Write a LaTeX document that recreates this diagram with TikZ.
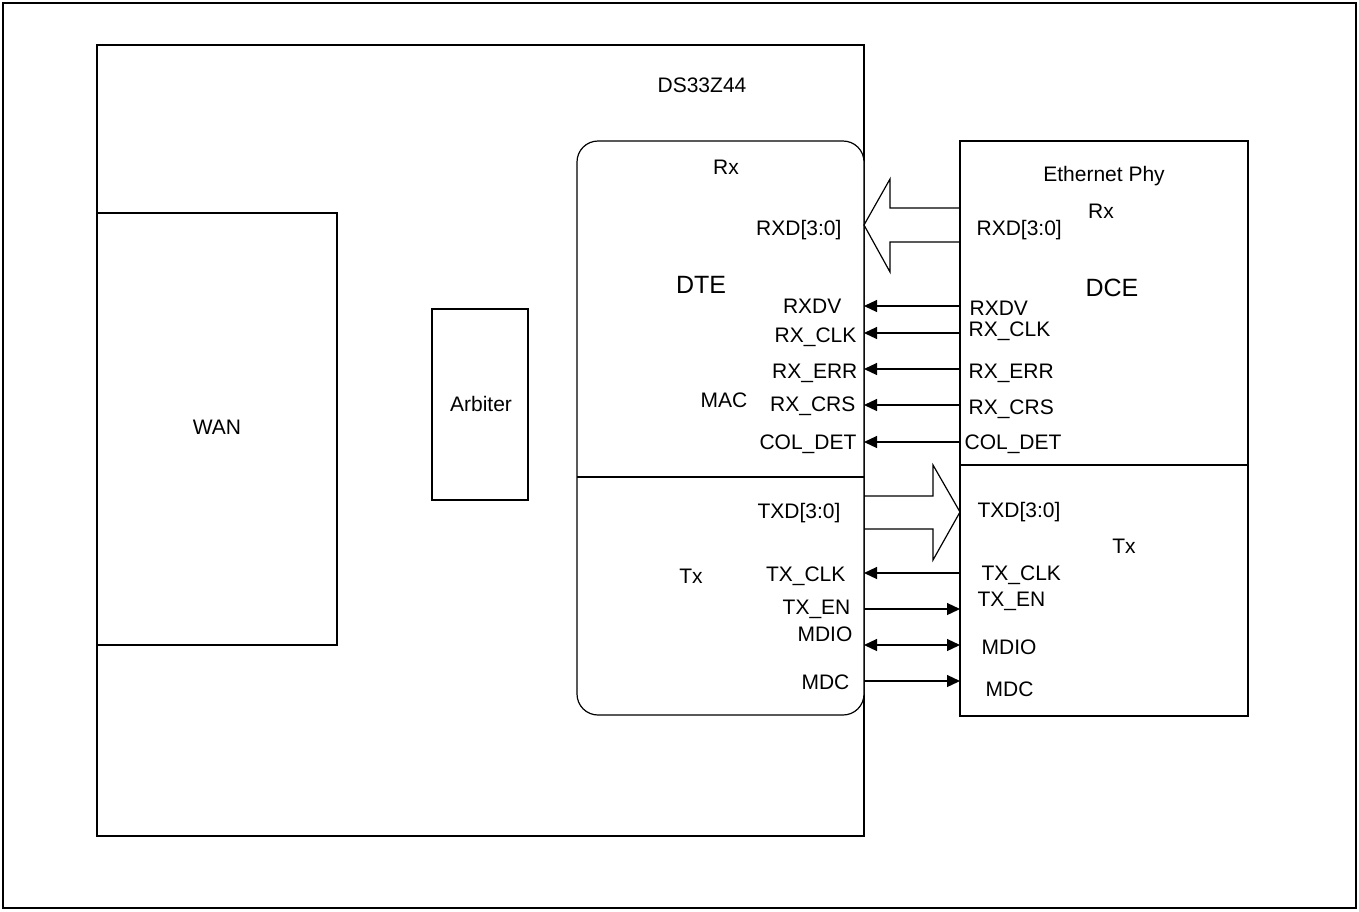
\documentclass[tikz,border=0pt]{standalone}
\usepackage{fontspec}
\setmainfont{Liberation Sans}
\usetikzlibrary{arrows.meta}
\begin{document}
\begin{tikzpicture}[x=1pt,y=-1pt,line width=1.2pt,
  box/.style={draw,line width=1.2pt,inner sep=0pt,outer sep=0pt},
  lbl/.style={font=\fontsize{21}{25}\selectfont,inner sep=0pt},
  biglbl/.style={font=\fontsize{25}{30}\selectfont,inner sep=0pt},
  sig/.style={line width=1.2pt,-{Triangle[length=13pt,width=12pt]}},
  bisig/.style={line width=1.2pt,{Triangle[length=13pt,width=12pt]}-{Triangle[length=13pt,width=12pt]}}]
\useasboundingbox (0,0) rectangle (1359,911);
\draw[line width=2.2pt] (3,3) rectangle (1356,908);
% boxes
\node[box,anchor=north west,minimum width=767pt,minimum height=791pt] (ds) at (97,45) {};
\node[box,anchor=north west,minimum width=240pt,minimum height=432pt] (wan) at (97,213) {};
\node[box,anchor=north west,minimum width=96pt,minimum height=191pt] (arb) at (432,309) {};
\node[box,anchor=north west,minimum width=287pt,minimum height=574pt,rounded corners=21pt,fill=white] (dte) at (577,141) {};
\node[box,anchor=north west,minimum width=288pt,minimum height=575pt] (phy) at (960,141) {};
\draw (dte.west |- 0,477) -- (dte.east |- 0,477);
\draw (phy.west |- 0,465) -- (phy.east |- 0,465);
% big bus arrows
\draw (phy.west |- 0,208) -- (890,208) -- (890,179) -- (dte.east |- 0,225) -- (890,272) -- (890,242) -- (phy.west |- 0,242);
\draw (dte.east |- 0,496) -- (933,496) -- (933,465) -- (phy.west |- 0,512) -- (933,560) -- (933,529) -- (dte.east |- 0,529);
% signals
\draw[sig] (phy.west |- 0,306) -- (dte.east |- 0,306);
\draw[sig] (phy.west |- 0,333) -- (dte.east |- 0,333);
\draw[sig] (phy.west |- 0,369) -- (dte.east |- 0,369);
\draw[sig] (phy.west |- 0,405) -- (dte.east |- 0,405);
\draw[sig] (phy.west |- 0,442) -- (dte.east |- 0,442);
\draw[sig] (phy.west |- 0,573) -- (dte.east |- 0,573);
\draw[sig] (dte.east |- 0,609) -- (phy.west |- 0,609);
\draw[bisig] (dte.east |- 0,645) -- (phy.west |- 0,645);
\draw[sig] (dte.east |- 0,681) -- (phy.west |- 0,681);
% centred labels
\node[lbl,anchor=base] (tds) at (702,92.5) {DS33Z44};
\node[lbl,anchor=base] (trx1) at (726,174.5) {Rx};
\node[biglbl,anchor=base] (tdte) at (701,293) {DTE};
\node[lbl,anchor=base] (tmac) at (724,407.5) {MAC};
\node[lbl,anchor=base] (ttx1) at (691,583.5) {Tx};
\node[lbl,anchor=base] (teth) at (1104,181.5) {Ethernet Phy};
\node[lbl,anchor=base] (trx2) at (1101,218.5) {Rx};
\node[biglbl,anchor=base] (tdce) at (1112,296) {DCE};
\node[lbl,anchor=base] (ttx2) at (1124,553.5) {Tx};
\node[lbl,anchor=base] (twan) at (217,434.5) {WAN};
\node[lbl,anchor=base] (tarb) at (481,411.5) {Arbiter};
% left signal labels
\node[lbl,anchor=base east] (l1) at (842,235.5) {RXD[3:0]};
\node[lbl,anchor=base east] (l2) at (842,313.5) {RXDV};
\node[lbl,anchor=base east] (l3) at (857,342.5) {RX\_CLK};
\node[lbl,anchor=base east] (l4) at (858,378.5) {RX\_ERR};
\node[lbl,anchor=base east] (l5) at (856,411.5) {RX\_CRS};
\node[lbl,anchor=base east] (l6) at (857,449.5) {COL\_DET};
\node[lbl,anchor=base east] (l7) at (841,518.5) {TXD[3:0]};
\node[lbl,anchor=base east] (l8) at (846,581.5) {TX\_CLK};
\node[lbl,anchor=base east] (l9) at (851,614.5) {TX\_EN};
\node[lbl,anchor=base east] (l10) at (853,641.5) {MDIO};
\node[lbl,anchor=base east] (l11) at (850,689.5) {MDC};
% right signal labels
\node[lbl,anchor=base west] (r1) at (976,235.5) {RXD[3:0]};
\node[lbl,anchor=base west] (r2) at (969,315.5) {RXDV};
\node[lbl,anchor=base west] (r3) at (968,336.5) {RX\_CLK};
\node[lbl,anchor=base west] (r4) at (968,378.5) {RX\_ERR};
\node[lbl,anchor=base west] (r5) at (968,414.5) {RX\_CRS};
\node[lbl,anchor=base west] (r6) at (964,449.5) {COL\_DET};
\node[lbl,anchor=base west] (r7) at (977,517.5) {TXD[3:0]};
\node[lbl,anchor=base west] (r8) at (981,580.5) {TX\_CLK};
\node[lbl,anchor=base west] (r9) at (977,606.5) {TX\_EN};
\node[lbl,anchor=base west] (r10) at (981,654.5) {MDIO};
\node[lbl,anchor=base west] (r11) at (985,696.5) {MDC};
\end{tikzpicture}
\end{document}
